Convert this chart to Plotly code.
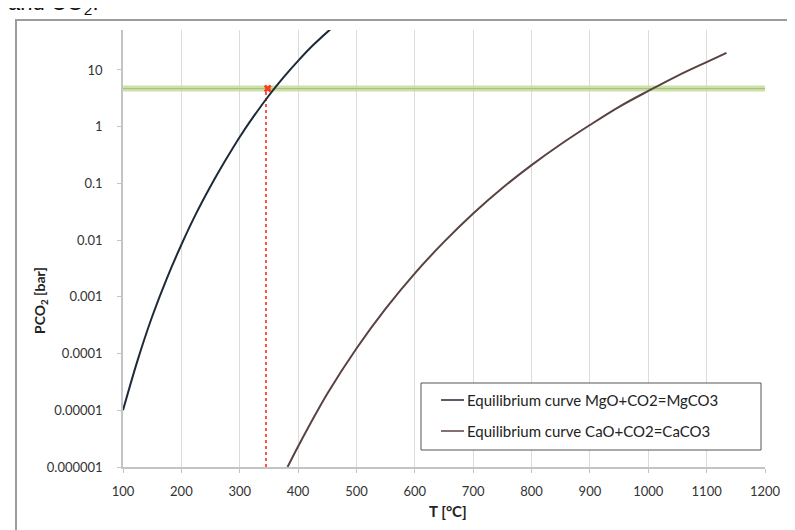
import plotly.graph_objects as go

# ---- data ----
T_mgo = [100, 125, 150, 175, 200, 225, 250, 275, 300, 325, 350, 375, 400, 425, 455]
P_mgo = [1.0e-5, 7.6e-5, 4.5e-4, 2.1e-3, 8.3e-3, 2.9e-2, 8.9e-2, 0.25, 0.66, 1.58, 3.55, 7.4, 14.5, 27.0, 52.0]

T_cao = [382, 400, 450, 500, 550, 600, 650, 700, 750, 800, 850, 900, 950, 1000, 1050, 1100, 1134]
P_cao = [1.0e-6, 2.3e-6, 1.95e-5, 1.23e-4, 6.2e-4, 2.6e-3, 9.3e-3, 2.95e-2, 8.3e-2, 0.21, 0.49, 1.07, 2.24, 4.27, 7.9, 13.8, 20.0]

T_limit = [100, 1200]          # green pressure line
P_limit = [4.7, 4.7]
T_mark = [345, 345]            # red vertical line
P_mark = [1e-6, 4.7]
T_point = [348]
P_point = [4.7]

x_ticks = [100, 200, 300, 400, 500, 600, 700, 800, 900, 1000, 1100, 1200]
y_ticks = [10, 1, 0.1, 0.01, 0.001, 0.0001, 0.00001, 0.000001]
y_ticklabels = ["10", "1", "0.1", "0.01", "0.001", "0.0001", "0.00001", "0.000001"]

names = ["Equilibrium curve MgO+CO2=MgCO3", "Equilibrium curve CaO+CO2=CaCO3"]
colors = ["#1e2a38", "#5a4242"]

FONT = "Lato"
W, H = 795, 530
L, R, TOP, B = 115, 38, 22, 71
PW, PH = W - L - R, H - TOP - B


def px(xp):
    return (xp - L) / PW


def py(yp):
    return (H - B - yp) / PH


fig = go.Figure()

# green band
fig.add_trace(go.Scatter(x=T_limit, y=P_limit, mode="lines",
                         line=dict(color="rgba(196,220,150,0.85)", width=6),
                         showlegend=False, hoverinfo="skip"))
fig.add_trace(go.Scatter(x=T_limit, y=P_limit, mode="lines",
                         line=dict(color="#a9ba8c", width=1),
                         showlegend=False, hoverinfo="skip"))

# red marker line
fig.add_trace(go.Scatter(x=T_mark, y=P_mark, mode="lines",
                         line=dict(color="#ff2a1a", width=1.6, dash="dot"),
                         showlegend=False, hoverinfo="skip"))

# curves
fig.add_trace(go.Scatter(x=T_mgo, y=P_mgo, mode="lines", name=names[0],
                         line=dict(color=colors[0], width=2, shape="spline"),
                         showlegend=False))
fig.add_trace(go.Scatter(x=T_cao, y=P_cao, mode="lines", name=names[1],
                         line=dict(color=colors[1], width=2, shape="spline"),
                         showlegend=False))

fig.add_trace(go.Scatter(x=T_point, y=P_point, mode="markers",
                         marker=dict(symbol="x", size=7, color="#ff3a1a"),
                         showlegend=False, hoverinfo="skip"))

shapes = []
annotations = []

# outer frame (partly cut off by the image edges)
shapes.append(dict(type="rect", xref="paper", yref="paper",
                   x0=px(8), x1=px(805), y0=py(540), y1=py(12),
                   line=dict(color="#9c9c9c", width=2), fillcolor="rgba(0,0,0,0)", layer="below"))

# manual legend
lx0, lx1, ly0, ly1 = 413, 753, 375, 442
shapes.append(dict(type="rect", xref="paper", yref="paper",
                   x0=px(lx0), x1=px(lx1), y0=py(ly1), y1=py(ly0),
                   line=dict(color="#555555", width=1), fillcolor="white", layer="above"))
rows = [392, 423]
for i, (nm, c) in enumerate(zip(names, colors)):
    yy = rows[i]
    shapes.append(dict(type="line", xref="paper", yref="paper",
                       x0=px(433), x1=px(456), y0=py(yy), y1=py(yy),
                       line=dict(color=c, width=1.5), layer="above"))
    annotations.append(dict(xref="paper", yref="paper", x=px(457), y=py(yy),
                            xanchor="left", yanchor="middle", showarrow=False,
                            text=nm, font=dict(family=FONT, size=15, color="#222222")))

# y axis title
annotations.append(dict(xref="paper", yref="paper", x=px(32), y=py(293),
                        xanchor="center", yanchor="middle", showarrow=False, textangle=-90,
                        text="<b>PCO<sub>2</sub> [bar]</b>",
                        font=dict(family=FONT, size=14, color="#222222")))
# x axis title
annotations.append(dict(xref="paper", yref="paper", x=px(440), y=py(503),
                        xanchor="center", yanchor="middle", showarrow=False,
                        text="<b>T [°C]</b>",
                        font=dict(family=FONT, size=15, color="#222222")))
# cut-off document text at the very top
annotations.append(dict(xref="paper", yref="paper", x=px(-2), y=py(12),
                        xanchor="left", yanchor="bottom", showarrow=False,
                        text="and CO<sub>2</sub>.",
                        font=dict(family="Liberation Sans", size=22, color="#111111")))

fig.update_layout(
    width=W, height=H,
    margin=dict(l=L, r=R, t=TOP, b=B, pad=0),
    paper_bgcolor="white", plot_bgcolor="white",
    showlegend=False,
    shapes=shapes, annotations=annotations,
    font=dict(family=FONT, size=13, color="#333333"),
)

fig.update_xaxes(range=[100, 1200], tickvals=x_ticks,
                 showgrid=True, gridcolor="#dcdcdc", gridwidth=1,
                 showline=True, linecolor="#c4c4c4", linewidth=1.5,
                 ticks="outside", ticklen=4, tickcolor="#c4c4c4",
                 tickfont=dict(family=FONT, size=13, color="#333333"),
                 zeroline=False, ticklabelstandoff=8)
fig.update_yaxes(type="log", range=[-6, 1.705], tickvals=y_ticks, ticktext=y_ticklabels,
                 showgrid=False,
                 showline=True, linecolor="#c4c4c4", linewidth=1.5,
                 ticks="outside", ticklen=4, tickcolor="#c4c4c4",
                 tickfont=dict(family=FONT, size=13, color="#333333"),
                 zeroline=False, ticklabelstandoff=12)

fig.write_html("out.html")
